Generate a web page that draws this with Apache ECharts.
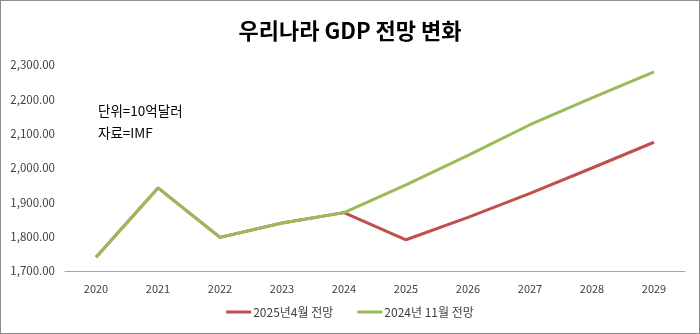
<!DOCTYPE html>
<html>
<head>
<meta charset="utf-8">
<script src="https://cdn.jsdelivr.net/npm/echarts@6/dist/echarts.min.js"></script>
<style>
html,body{margin:0;padding:0;background:#fff;}
#c{width:700px;height:334px;box-sizing:border-box;border:1px solid #8c8c8c;}
</style>
</head>
<body>
<div id="c"></div>
<script>
const years = ['2020','2021','2022','2023','2024','2025','2026','2027','2028','2029'];
const aprilOutlook2025 = [1740, 1942, 1798, 1840, 1870, 1791, 1856, 1926, 2000, 2075];
const novOutlook2024 = [1740, 1942, 1798, 1840, 1870, 1951, 2037, 2126, 2204, 2280];
const seriesNames = ['2025년4월 전망', '2024년 11월 전망'];
const yMin = 1700, yMax = 2300, yStep = 100;

const chart = echarts.init(document.getElementById('c'));
const font = '"Noto Sans CJK KR", "Noto Sans", sans-serif';
chart.setOption({
  animation: false,
  title: {
    text: '우리나라 GDP 전망 변화',
    left: 'center',
    top: 14,
    textStyle: { fontFamily: font, fontSize: 22, fontWeight: 'bold', color: '#000' }
  },
  graphic: [
    { type: 'text', left: 97, top: 103, style: { text: '단위=10억달러', font: '13.5px ' + font, fill: '#000' } },
    { type: 'text', left: 97, top: 125, style: { text: '자료=IMF', font: '13.5px ' + font, fill: '#000' } }
  ],
  grid: { left: 64, right: 14, top: 64, bottom: 62 },
  legend: {
    bottom: 10,
    left: 'center',
    itemWidth: 25,
    itemHeight: 3,
    itemGap: 24,
    icon: 'rect',
    textStyle: { fontFamily: font, fontSize: 12, color: '#404040', padding: [0, 0, 0, -3] },
    data: seriesNames
  },
  xAxis: {
    type: 'category',
    data: years,
    boundaryGap: true,
    axisLine: { lineStyle: { color: '#a6a6a6', width: 1 } },
    axisTick: { show: false },
    axisLabel: { fontFamily: font, fontSize: 11, color: '#404040', margin: 12 }
  },
  yAxis: {
    type: 'value',
    min: yMin,
    max: yMax,
    interval: yStep,
    splitLine: { show: false },
    axisLine: { show: false },
    axisTick: { show: false },
    axisLabel: {
      fontFamily: font, fontSize: 11.5, color: '#404040', margin: 10,
      formatter: v => v.toLocaleString('en-US', { minimumFractionDigits: 2, maximumFractionDigits: 2 })
    }
  },
  series: [
    {
      name: seriesNames[0], type: 'line', data: aprilOutlook2025,
      symbol: 'none', lineStyle: { color: '#c0504d', width: 3 }, itemStyle: { color: '#c0504d' }
    },
    {
      name: seriesNames[1], type: 'line', data: novOutlook2024,
      symbol: 'none', lineStyle: { color: '#9bbb59', width: 3 }, itemStyle: { color: '#9bbb59' }
    }
  ]
});
</script>
</body>
</html>
